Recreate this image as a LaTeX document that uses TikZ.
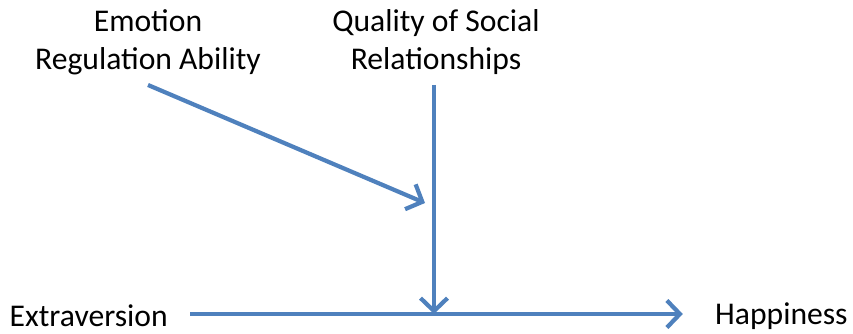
\documentclass[tikz,border=0pt]{standalone}
\usepackage{fontspec}
\setmainfont{Carlito}
\usepackage{tikz}
\definecolor{steel}{HTML}{4F81BD}
\usetikzlibrary{arrows.meta,calc}
\tikzset{lbl/.style={
    font=\fontsize{18}{21.6}\selectfont,
    inner sep=0pt},
  link/.style={
    draw=steel,
    line width=2.4pt,
    -{Straight Barb[length=2.6mm,width=5.4mm,line width=2.4pt]}}}

\begin{document}
\begin{tikzpicture}
  \useasboundingbox (0,0) rectangle (17.06,-6.66);
\coordinate (ERA) at (2.96,-0.84);
\coordinate (QSR) at (8.72,-0.84);
\coordinate (tgt) at (8.5,-4.06);
\coordinate (mid) at (8.68,-6.28);

\node[lbl,
  align=center] (era) at (ERA) {Emotion\\Regulation Ability};

\node[lbl,
  align=center] (qsr) at (QSR) {Quality of Social\\Relationships};

\node[lbl,
  anchor=east] (ext) at (3.36,-6.32) {Extraversion};

\node[lbl,
  anchor=east] (hap) at (16.96,-6.32) {Happiness};

\draw[link] ($(era.south)+(0,-0.2)$) -- (tgt);
\draw[link] ($(mid |- qsr.south)+(0,-0.2)$) -- (mid);
\draw[link] ([xshift=4.4mm]ext.east |- mid) -- ([xshift=-6.4mm]hap.west |- mid);

\end{tikzpicture}
\end{document}
